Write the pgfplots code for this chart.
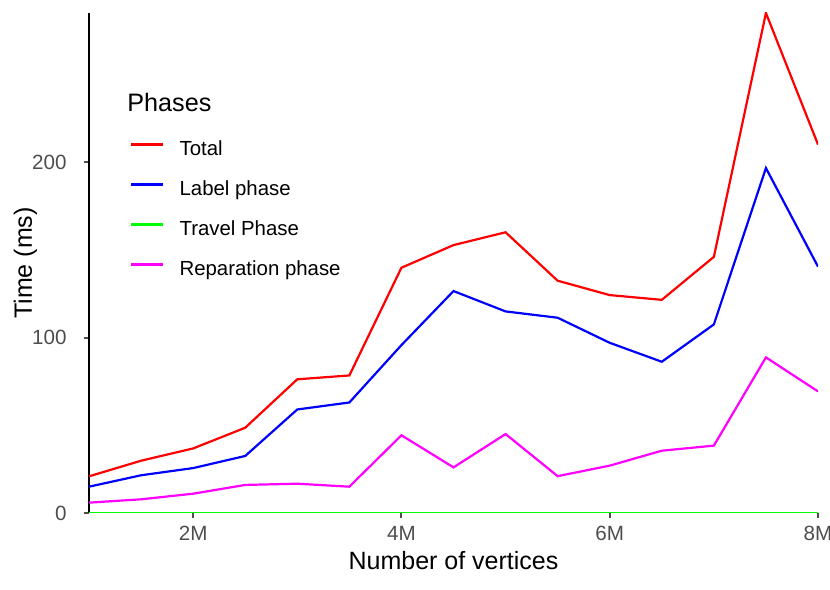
\documentclass[border=0pt]{standalone}
\usepackage{pgfplots}
\pgfplotsset{compat=1.18}
\usepackage{fontspec}
\setmainfont{Liberation Sans}
\definecolor{tickgray}{HTML}{4D4D4D}
\definecolor{cTotal}{HTML}{FF0000}
\definecolor{cLabel}{HTML}{0000FF}
\definecolor{cTravel}{HTML}{00FF00}
\definecolor{cRep}{HTML}{FF00FF}
\pgfplotstableread{
x total label travel rep
1.0 20.9 15.0 0 5.9
1.5 29.8 21.5 0 7.8
2.0 36.8 25.6 0 11.0
2.5 48.6 32.5 0 16.0
3.0 76.2 59.0 0 16.7
3.5 78.4 63.0 0 15.0
4.0 139.8 95.7 0 44.3
4.5 152.7 126.5 0 26.0
5.0 160.0 114.9 0 45.0
5.5 132.4 111.3 0 21.0
6.0 124.2 97.0 0 27.0
6.5 121.5 86.2 0 35.5
7.0 146.0 107.5 0 38.4
7.5 285.0 196.6 0 88.7
8.0 210.0 140.4 0 69.3
}\data
\begin{document}
\begin{tikzpicture}
\begin{axis}[
  scale only axis, width=364.5pt, height=250pt,
  xmin=1, xmax=8, ymin=0, ymax=285,
  axis lines=left,
  axis line style={-},
  y axis line style={line width=1.1pt, black},
  x axis line style={draw=none},
  xtick={2,4,6,8}, xticklabels={2M,4M,6M,8M},
  ytick={0,100,200},
  tick style={tickgray, line width=1pt},
  tick align=outside, major tick length=2.75pt,
  ticklabel style={font=\fontsize{10.3}{12}\selectfont, text=tickgray, inner sep=0pt},
  xticklabel style={anchor=base, yshift=-10.9pt},
  yticklabel style={anchor=east, xshift=-8.3pt},
  /pgf/number format/assume math mode=true,
  xlabel={Number of vertices}, ylabel={Time (ms)},
  label style={font=\fontsize{12.5}{15}\selectfont, inner sep=0pt},
  xlabel style={at={(axis description cs:0.5,-0.114)}, anchor=base},
  ylabel style={at={(axis description cs:-0.0782,0.5)}, anchor=base},
  legend style={at={(rel axis cs:0.0562,0.7448)}, anchor=north west, draw=none, fill=none,
    font=\fontsize{10.2}{12}\selectfont, inner sep=0pt, row sep=10.6pt, column sep=7.5pt,
    nodes={inner sep=0pt, text height=7.4pt, text depth=2pt}},
  legend cell align=left,
  legend image code/.code={\draw[#1, line width=1.1pt] (0pt,2.9pt) -- (16pt,2.9pt);},
  every axis plot/.append style={line width=1.1pt},
]
\addplot[cTotal] table[x=x, y=total] {\data};
\addlegendentry{Total}
\addplot[cLabel] table[x=x, y=label] {\data};
\addlegendentry{Label phase}
\addplot[cTravel] table[x=x, y=travel] {\data};
\addlegendentry{Travel Phase}
\addplot[cRep] table[x=x, y=rep] {\data};
\addlegendentry{Reparation phase}
\node[anchor=base west, inner sep=0pt, font=\fontsize{12.6}{15}\selectfont] at (rel axis cs:0.0521,0.802) {Phases};
\coordinate (SW) at (rel axis cs:0,0);
\coordinate (NE) at (rel axis cs:1,1);
\end{axis}
\pgfresetboundingbox
\path[use as bounding box] ([xshift=-44.5pt,yshift=-38.5pt]SW) rectangle ([xshift=6pt,yshift=6.5pt]NE);
\end{tikzpicture}
\end{document}
